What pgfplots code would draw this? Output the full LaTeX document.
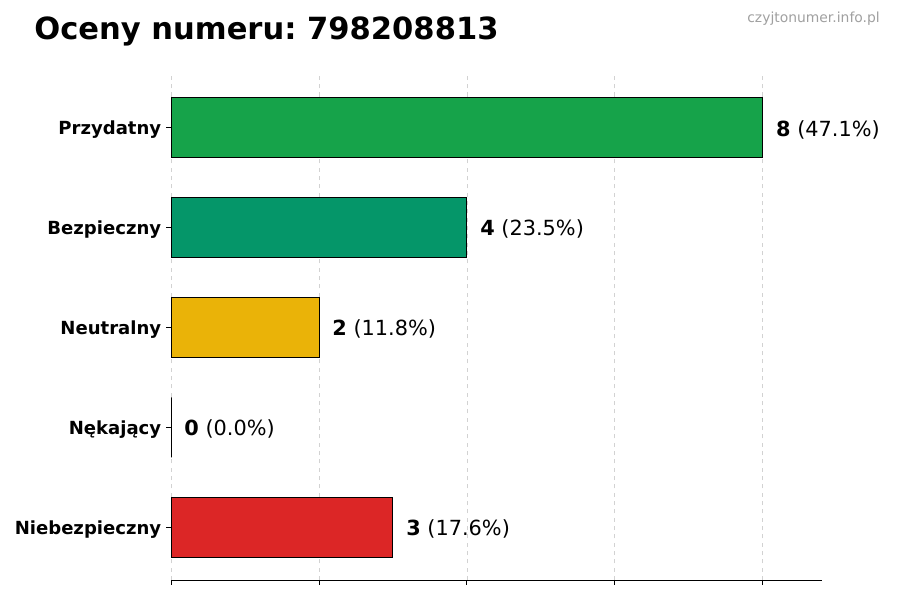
\documentclass[border=0pt]{standalone}
\usepackage{pgfplots}
\pgfplotsset{compat=1.18}
\usepackage{fontspec}
\setmainfont{DejaVu Sans}
\frenchspacing
\definecolor{cgreen}{RGB}{22,163,74}
\definecolor{cteal}{RGB}{5,150,105}
\definecolor{cyellow}{RGB}{234,179,8}
\definecolor{cred}{RGB}{220,38,38}
\definecolor{cmark}{RGB}{160,160,160}
\begin{document}
\begin{tikzpicture}[x=1pt,y=1pt]
\useasboundingbox (0,0) rectangle (648,432);
\node[anchor=west, font=\fontsize{22}{26}\selectfont\bfseries, inner sep=0] at (24.5,409) {Oceny numeru: 798208813};
\node[anchor=east, font=\fontsize{10}{12}\selectfont, text=cmark, inner sep=0] at (633.6,418.5) {czyjtonumer.info.pl};
\begin{axis}[
    at={(123.1pt,14.4pt)}, anchor=south west,
    scale only axis, width=468.7pt, height=363.6pt,
    xbar, bar width=43.2pt, bar shift=0pt,
    xmin=0, xmax=8.8, ymin=-0.53, ymax=4.53,
    xtick={0,2,4,6,8}, xticklabels={},
    ytick={0,1,2,3,4},
    yticklabels={Niebezpieczny,Nękający,Neutralny,Bezpieczny,Przydatny},
    yticklabel style={font=\fontsize{13}{15}\selectfont\bfseries, yshift=-1.5pt},
    axis x line*=bottom, axis y line*=left,
    y axis line style={draw=none},
    x axis line style={line width=0.6pt, -},
    tick align=outside, major tick length=3.5pt,
    tick style={black, line width=0.6pt},
    xmajorgrids, grid style={dashed, gray!35, line width=0.5pt},
    clip=false,
    nodes near coords, point meta=explicit symbolic,
    every node near coord/.style={anchor=west, inner sep=0pt, xshift=9.4pt, yshift=-1.2pt,
        font=\fontsize{15}{18}\selectfont, text=black},
]
\addplot[fill=cgreen, draw=black, line width=0.6pt] coordinates {(8,4) [\textbf{8} (47.1\%)]};
\addplot[fill=cteal, draw=black, line width=0.6pt] coordinates {(4,3) [\textbf{4} (23.5\%)]};
\addplot[fill=cyellow, draw=black, line width=0.6pt] coordinates {(2,2) [\textbf{2} (11.8\%)]};
\addplot[fill=gray, draw=black, line width=0.6pt] coordinates {(0,1) [\textbf{0} (0.0\%)]};
\addplot[fill=cred, draw=black, line width=0.6pt] coordinates {(3,0) [\textbf{3} (17.6\%)]};
\end{axis}
\end{tikzpicture}
\end{document}
